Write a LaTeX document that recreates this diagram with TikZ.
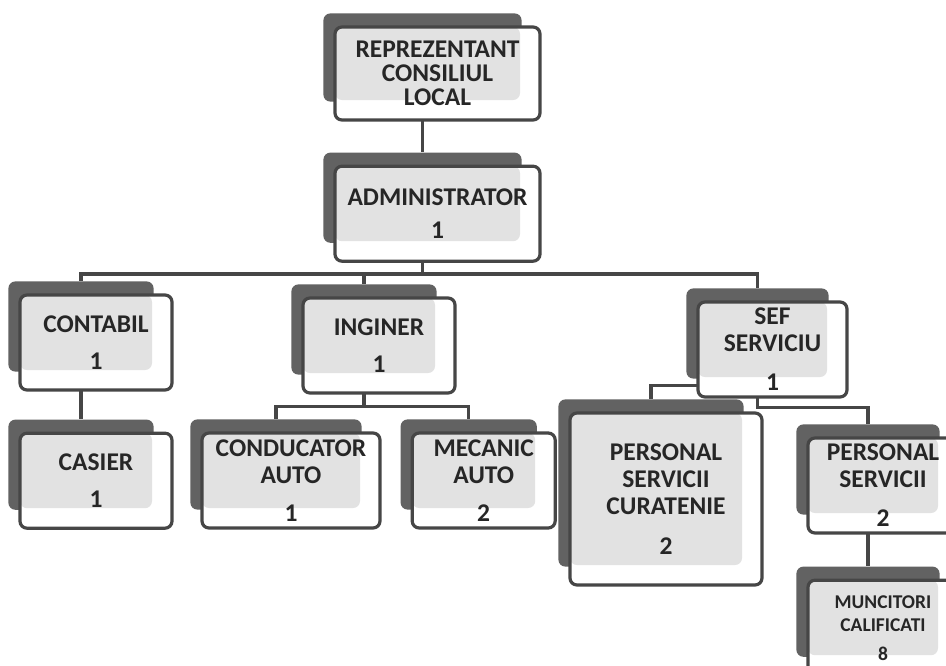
\documentclass[tikz,border=0pt]{standalone}
\usepackage{fontspec}
\setmainfont{Carlito}
\usepackage{tikz}
\usetikzlibrary{positioning,fit,backgrounds}
\definecolor{clrBack}{RGB}{98,98,98}
\definecolor{clrBorder}{RGB}{70,70,70}
\definecolor{clrFill}{RGB}{226,226,226}
\tikzstyle{box_front}=[draw=clrBorder, line width=3.2pt, rounded corners=7pt, fill=white,
inner sep=0pt, align=center, text=black!85, font=\bfseries\fontsize{25.5}{27}\selectfont,
path picture={\fill[clrFill] (path picture bounding box.north west) rectangle ([shift={(-20pt,20pt)}]path picture bounding box.south east);}]
\tikzstyle{box_back}=[fill=clrBack, rounded corners=7pt, inner sep=0pt]
\tikzstyle{diagram0}=[box_front, minimum width=152pt, minimum height=95pt]
\tikzstyle{line}=[draw=clrBorder, line width=3.2pt]

\begin{document}
\begin{tikzpicture}[x=1pt, y=-1pt]
		\useasboundingbox (0,0) rectangle (946,665);

		\node[diagram0, minimum width=205pt, minimum height=93pt, font=\bfseries\fontsize{25.5}{24}\selectfont] (rep) at (437.5,73.5) {REPREZENTANT\\CONSILIUL\\LOCAL} ;
		\node[diagram0, minimum width=205pt, below=43pt of rep] (adm) {ADMINISTRATOR\\[6pt]1} ;

		\node[diagram0] (contabil) at (96,342.5) {CONTABIL\\[10pt]1} ;
		\node[diagram0] (inginer) at (379,345.5) {INGINER\\[10pt]1} ;
		\node[diagram0, minimum width=149pt] (sef) at (772.5,349.5) {SEF\\SERVICIU\\[12pt]1} ;

		\node[diagram0, below=40pt of contabil] (casier) {CASIER\\[10pt]1} ;
		\node[diagram0, minimum width=178pt] (conducator) at (291,480.5) {CONDUCATOR\\AUTO\\[11pt]1} ;
		\node[diagram0, minimum width=143pt, right=29pt of conducator] (mecanic) {MECANIC\\AUTO\\[11pt]2} ;
		\node[diagram0, minimum width=192pt, minimum height=172pt] (psc) at (666,499) {PERSONAL\\SERVICII\\CURATENIE\\[13pt]2} ;
		\node[diagram0, minimum width=150pt] (ps) at (883,485.5) {PERSONAL\\SERVICII\\[12pt]2} ;
		\node[diagram0, minimum width=150pt, font=\bfseries\fontsize{19.5}{23}\selectfont, below=44pt of ps] (munc) {MUNCITORI\\CALIFICATI\\[6pt]8} ;

		\begin{scope}[on background layer]
			\fill[white] (0,0) rectangle (946,665) ;
			% dark boxes behind each node
			\foreach \n in {rep,adm,contabil,inginer,sef,casier,conducator,mecanic,psc,ps,munc}
				\node[box_back, fit={([shift={(-10pt,12pt)}]\n.north west) ([shift={(-20pt,20pt)}]\n.south east)}] (\n-b) {} ;

			\draw[line] (rep-b.south) -- (adm-b.north) ;
			\draw[line] (adm-b.south) -- ++(0,31) coordinate (bus) ;
			\foreach \n in {contabil,inginer,sef}
				\draw[line] (bus) -| (\n-b.north) ;
			\draw[line] (contabil-b.south) -- (casier-b.north) ;
			\draw[line] (inginer-b.south) -- ++(0,32) coordinate (ibus) ;
			\foreach \n in {conducator,mecanic}
				\draw[line] (ibus) -| (\n-b.north) ;
			\draw[line] (sef-b.south) -- ++(0,7) -| (psc-b.north) ;
			\draw[line] (sef-b.south) -- ++(0,29) -| (ps-b.north) ;
			\draw[line] (ps-b.south) -- (munc-b.north) ;
		\end{scope}

	\end{tikzpicture}
\end{document}
